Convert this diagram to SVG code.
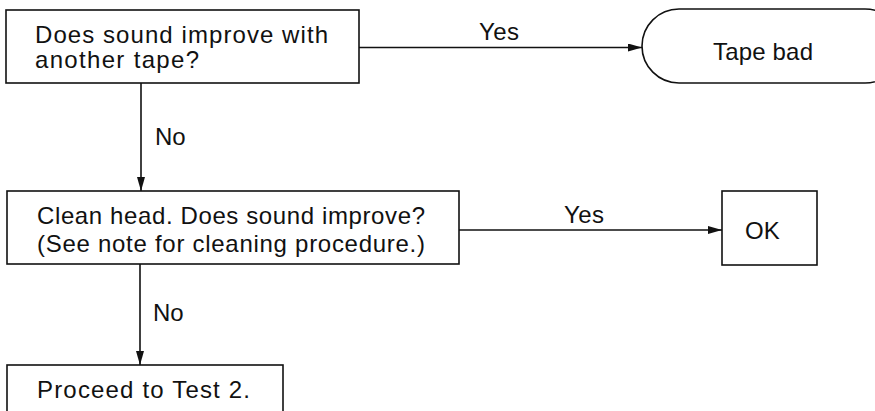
<svg xmlns="http://www.w3.org/2000/svg" width="875" height="411" viewBox="0 0 875 411">
<defs>
<marker id="arr" markerWidth="14" markerHeight="8" refX="14" refY="4" orient="auto" markerUnits="userSpaceOnUse">
<path d="M0,0 L14,4 L0,8 Z" fill="#111"/>
</marker>
<style>
.box{fill:#fff;stroke:#111;stroke-width:1.6}
.t{font-family:"Liberation Sans",Arial,sans-serif;font-size:24px;fill:#111}
.c{fill:none;stroke:#111;stroke-width:1.6;marker-end:url(#arr)}
</style>
</defs>
<rect width="875" height="411" fill="#fff"/>
<g id="connectors">
<line class="c" x1="359" y1="47.5" x2="642" y2="47.5"/>
<text class="t" x="479" y="40" textLength="40">Yes</text>
<line class="c" x1="141" y1="83" x2="141" y2="191"/>
<text class="t" x="155" y="145">No</text>
<line class="c" x1="459" y1="230" x2="722" y2="230"/>
<text class="t" x="564" y="223" textLength="40">Yes</text>
<line class="c" x1="140" y1="264" x2="140" y2="365"/>
<text class="t" x="153" y="321">No</text>
</g>
<g id="q1">
<rect class="box" x="6" y="10" width="353" height="73"/>
<text class="t" x="35" y="43" textLength="293">Does sound improve with</text>
<text class="t" x="35" y="68" textLength="164">another tape?</text>
</g>
<g id="tapebad">
<rect class="box" x="642" y="9" width="260" height="74" rx="37" ry="37"/>
<text class="t" x="713" y="60" textLength="100">Tape bad</text>
</g>
<g id="q2">
<rect class="box" x="7" y="191" width="452" height="73"/>
<text class="t" x="37" y="224" textLength="388">Clean head. Does sound improve?</text>
<text class="t" x="37" y="252" textLength="388">(See note for cleaning procedure.)</text>
</g>
<g id="ok">
<rect class="box" x="722" y="191" width="95" height="74"/>
<text class="t" x="745" y="239">OK</text>
</g>
<g id="test2">
<rect class="box" x="7" y="365" width="276" height="60"/>
<text class="t" x="37" y="398" textLength="213">Proceed to Test 2.</text>
</g>
</svg>
